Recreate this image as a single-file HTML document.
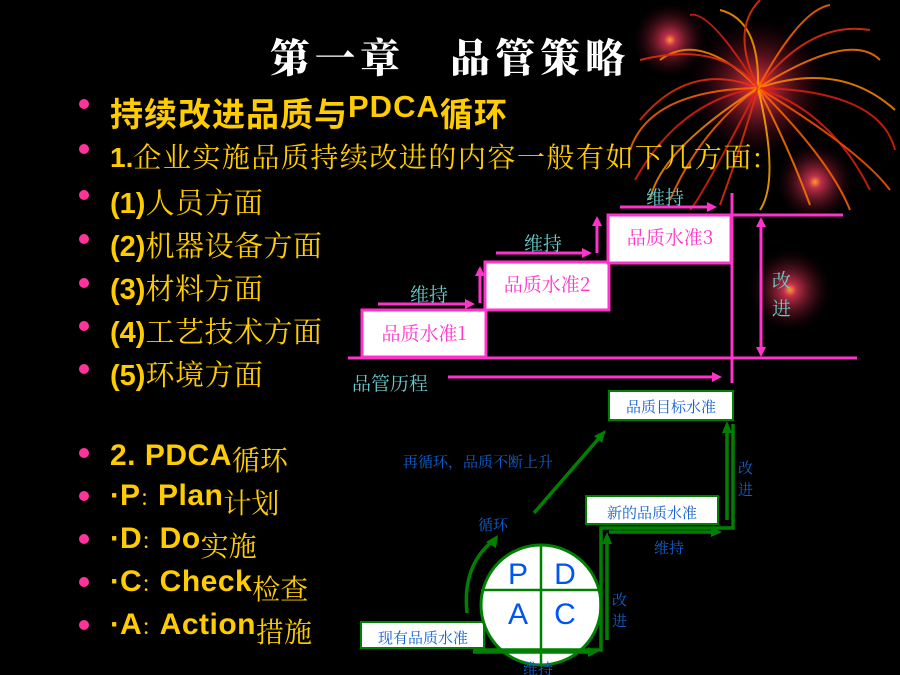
<!DOCTYPE html>
<html><head><meta charset="utf-8"><style>
html,body{margin:0;padding:0;background:#000;}
svg{display:block}
</style></head><body>
<svg width="900" height="675" viewBox="0 0 900 675" xmlns="http://www.w3.org/2000/svg">
<defs>
<radialGradient id="g1"><stop offset="0" stop-color="#ff9a30"/><stop offset="0.15" stop-color="#c0304a"/><stop offset="1" stop-color="#200008" stop-opacity="0"/></radialGradient>
<radialGradient id="g2"><stop offset="0" stop-color="#ffe000"/><stop offset="0.1" stop-color="#d03040"/><stop offset="1" stop-color="#300010" stop-opacity="0"/></radialGradient>
</defs>
<rect width="900" height="675" fill="#000"/>
<circle cx="670" cy="40" r="38" fill="url(#g1)"/>
<circle cx="815" cy="182" r="40" fill="url(#g1)"/>
<circle cx="790" cy="290" r="42" fill="url(#g1)"/>
<circle cx="758" cy="88" r="70" fill="url(#g2)"/>
<g fill="none" stroke-width="2" opacity="0.85">
<path d="M758 88 Q690 60 640 120" stroke="#e83010"/>
<path d="M758 88 Q700 30 660 60" stroke="#ff8800"/>
<path d="M758 88 Q680 100 635 180" stroke="#e02010"/>
<path d="M758 88 Q700 130 670 200" stroke="#ff6600"/>
<path d="M758 88 Q740 150 720 205" stroke="#e03010"/>
<path d="M758 88 Q790 150 810 205" stroke="#ff7700"/>
<path d="M758 88 Q830 110 870 190" stroke="#e02010"/>
<path d="M758 88 Q840 60 895 110" stroke="#ff8800"/>
<path d="M758 88 Q810 20 870 30" stroke="#e83010"/>
<path d="M758 88 Q760 20 720 10" stroke="#ff9900"/>
<path d="M758 88 Q800 10 830 5" stroke="#ff6600"/>
<path d="M758 88 Q710 10 690 15" stroke="#e02010"/>
<path d="M758 88 Q860 150 890 190" stroke="#ff5500"/>
<path d="M758 88 Q660 150 650 200" stroke="#ff8800"/>
<path d="M758 88 Q780 180 760 210" stroke="#ffaa00"/>
<path d="M758 88 Q720 40 640 60" stroke="#e83010"/>
<path d="M758 88 Q650 90 630 150" stroke="#ff6600"/>
<path d="M758 88 Q880 90 895 150" stroke="#e02010"/>
<path d="M758 88 Q850 30 880 60" stroke="#ff7700"/>
<path d="M758 88 Q700 200 690 210" stroke="#e02010"/>
<path d="M758 88 Q830 160 850 210" stroke="#ff6600"/>
<path d="M758 88 Q730 30 760 0" stroke="#e83010"/>
</g>
<text x="450" y="72" text-anchor="middle" font-family="'Noto Serif CJK SC',serif" font-weight="900" font-size="40" fill="#fff" letter-spacing="5">第一章　品管策略</text>
<g fill="#ff3399">
<circle cx="84" cy="104" r="5"/><circle cx="84" cy="149" r="5"/><circle cx="84" cy="195" r="5"/><circle cx="84" cy="239" r="5"/><circle cx="84" cy="283" r="5"/><circle cx="84" cy="326" r="5"/><circle cx="84" cy="369" r="5"/><circle cx="84" cy="453" r="5"/><circle cx="84" cy="496" r="5"/><circle cx="84" cy="539" r="5"/><circle cx="84" cy="582" r="5"/><circle cx="84" cy="625" r="5"/>
</g>
<g fill="#ffcc00" font-family="'Liberation Sans','Noto Sans CJK SC',sans-serif" font-size="28">
<text x="110" y="126" font-weight="bold" font-size="33" letter-spacing="1">持续改进品质与<tspan font-size="31" dy="-9" letter-spacing="1">PDCA</tspan><tspan dy="9" font-size="33">循环</tspan></text>
<text x="110" y="167"><tspan font-weight="bold">1.</tspan><tspan font-family="'Noto Serif CJK SC',serif" font-size="28" letter-spacing="1.5">企业实施品质持续改进的内容一般有如下几方面:</tspan></text>
<g font-family="'Noto Serif CJK SC',serif" font-size="29" letter-spacing="0.5">
<text x="110" y="213"><tspan font-weight="bold" font-family="'Liberation Sans',sans-serif" font-size="29" letter-spacing="0">(1)</tspan>人员方面</text>
<text x="110" y="256"><tspan font-weight="bold" font-family="'Liberation Sans',sans-serif" font-size="29" letter-spacing="0">(2)</tspan>机器设备方面</text>
<text x="110" y="299"><tspan font-weight="bold" font-family="'Liberation Sans',sans-serif" font-size="29" letter-spacing="0">(3)</tspan>材料方面</text>
<text x="110" y="342"><tspan font-weight="bold" font-family="'Liberation Sans',sans-serif" font-size="29" letter-spacing="0">(4)</tspan>工艺技术方面</text>
<text x="110" y="385"><tspan font-weight="bold" font-family="'Liberation Sans',sans-serif" font-size="29" letter-spacing="0">(5)</tspan>环境方面</text>
</g>
<g font-size="30">
<text x="110" y="465"><tspan font-weight="bold" letter-spacing="0.5">2. PDCA</tspan><tspan font-family="'Noto Serif CJK SC',serif" font-size="28" dy="5">循环</tspan></text>
<text x="110" y="505"><tspan font-weight="bold">·P</tspan><tspan font-size="18">：</tspan><tspan font-weight="bold" letter-spacing="0.5">Plan</tspan><tspan font-family="'Noto Serif CJK SC',serif" font-size="28" dy="8">计划</tspan></text>
<text x="110" y="548"><tspan font-weight="bold">·D</tspan><tspan font-size="18">：</tspan><tspan font-weight="bold" letter-spacing="0.5">Do</tspan><tspan font-family="'Noto Serif CJK SC',serif" font-size="28" dy="8">实施</tspan></text>
<text x="110" y="591"><tspan font-weight="bold">·C</tspan><tspan font-size="18">：</tspan><tspan font-weight="bold" letter-spacing="0.5">Check</tspan><tspan font-family="'Noto Serif CJK SC',serif" font-size="28" dy="8">检查</tspan></text>
<text x="110" y="634"><tspan font-weight="bold">·A</tspan><tspan font-size="18">：</tspan><tspan font-weight="bold" letter-spacing="0.5">Action</tspan><tspan font-family="'Noto Serif CJK SC',serif" font-size="28" dy="8">措施</tspan></text>
</g>
</g>
<g stroke="#ff33cc" stroke-width="3" fill="#fff">
<rect x="362" y="310" width="124" height="47"/>
<rect x="485" y="262" width="124" height="48"/>
<rect x="608" y="215" width="123" height="48"/>
</g>
<g stroke="#ff33cc" stroke-width="3" fill="none">
<line x1="348" y1="358" x2="857" y2="358"/>
<line x1="732" y1="193" x2="732" y2="383"/>
<line x1="731" y1="215" x2="843" y2="215"/>
<line x1="761" y1="225" x2="761" y2="350"/>
<line x1="378" y1="304" x2="468" y2="304"/>
<line x1="480" y1="303" x2="480" y2="274"/>
<line x1="496" y1="253" x2="585" y2="253"/>
<line x1="597" y1="253" x2="597" y2="224"/>
<line x1="620" y1="207" x2="710" y2="207"/>
<line x1="448" y1="377" x2="715" y2="377"/>
</g>
<g fill="#ff33cc">
<polygon points="475,304 465,299 465,309"/>
<polygon points="480,266 475,276 485,276"/>
<polygon points="592,253 582,248 582,258"/>
<polygon points="597,216 592,226 602,226"/>
<polygon points="717,207 707,202 707,212"/>
<polygon points="722,377 712,372 712,382"/>
<polygon points="761,217 756,227 766,227"/>
<polygon points="761,357 756,347 766,347"/>
</g>
<g fill="#ff33cc" font-family="'Noto Serif CJK SC',serif" font-size="19">
<text x="424" y="340" text-anchor="middle">品质水准1</text>
<text x="547" y="291" text-anchor="middle">品质水准2</text>
<text x="670" y="244" text-anchor="middle">品质水准3</text>
</g>
<g fill="#66cccc" font-family="'Noto Serif CJK SC',serif" font-size="19">
<text x="410" y="301">维持</text>
<text x="524" y="250">维持</text>
<text x="646" y="204">维持</text>
<text x="772" y="287">改</text>
<text x="772" y="315">进</text>
<text x="352" y="390">品管历程</text>
</g>
<g stroke="#008000" stroke-width="2" fill="#fff">
<rect x="609" y="391" width="124" height="29"/>
<rect x="586" y="496" width="132" height="28"/>
<rect x="361" y="622" width="123" height="26"/>
</g>
<circle cx="541" cy="605" r="60" fill="#fff" stroke="#008000" stroke-width="3"/>
<g stroke="#008000" stroke-width="2.5" fill="none">
<line x1="541" y1="545" x2="541" y2="665"/>
<line x1="481" y1="590" x2="601" y2="590"/>
</g>
<g stroke="#008000" stroke-width="3.5" fill="none">
<polyline points="473,650 601,650 601,528 733,528 733,424"/>
<line x1="473" y1="652" x2="590" y2="652"/>
<line x1="607" y1="640" x2="607" y2="540"/>
<line x1="609" y1="532" x2="715" y2="532"/>
<line x1="727" y1="520" x2="727" y2="430"/>
<path d="M467 613 Q462 565 494 540"/>
<line x1="534" y1="513" x2="600" y2="437"/>
</g>
<g fill="#008000">
<polygon points="598,652 588,647 588,657"/>
<polygon points="607,532 602,544 612,544"/>
<polygon points="722,532 711,527 711,537"/>
<polygon points="727,421 722,433 732,433"/>
<polygon points="498,535 486,542 496,548"/>
<polygon points="606,430 594,436 602,443"/>
</g>
<g fill="#0055ee" font-family="'Liberation Sans',sans-serif" font-size="30">
<text x="518" y="584" text-anchor="middle">P</text>
<text x="565" y="584" text-anchor="middle">D</text>
<text x="518" y="624" text-anchor="middle">A</text>
<text x="565" y="624" text-anchor="middle">C</text>
</g>
<g fill="#1060d0" font-family="'Noto Serif CJK SC',serif" font-size="15">
<text x="671" y="412" text-anchor="middle">品质目标水准</text>
<text x="652" y="518" text-anchor="middle">新的品质水准</text>
<text x="423" y="643" text-anchor="middle">现有品质水准</text>
<text x="403" y="467">再循环，品质不断上升</text>
<text x="478" y="530">循环</text>
<text x="612" y="605">改</text>
<text x="612" y="626">进</text>
<text x="523" y="674">维持</text>
<text x="654" y="553">维持</text>
<text x="738" y="473">改</text>
<text x="738" y="495">进</text>
</g>
</svg>
</body></html>
